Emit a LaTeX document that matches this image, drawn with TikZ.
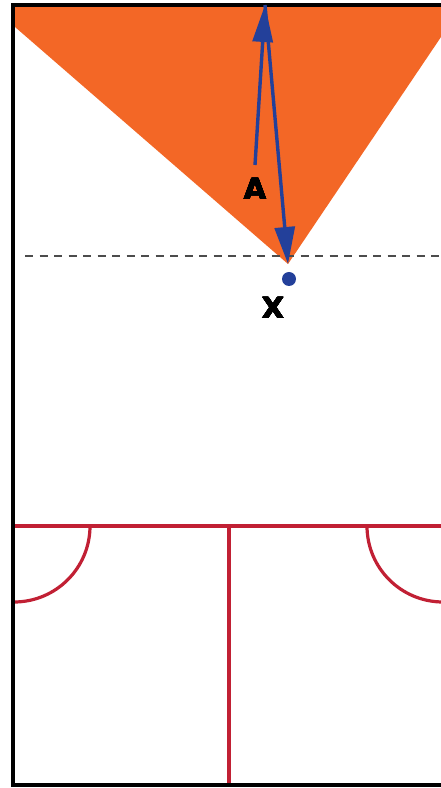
\documentclass[tikz,border=0pt]{standalone}
\usepackage{fontspec}
\setmainfont{DejaVu Sans}
\usepackage{contour}
\contourlength{0.35pt}
\usetikzlibrary{arrows.meta}
\definecolor{zoneorange}{RGB}{243,103,38}
\definecolor{arrblue}{RGB}{35,64,154}
\definecolor{linered}{RGB}{193,32,52}
\tikzset{
  edgeline/.style={line width=4pt,black,line join=miter},
  zone/.style={fill=zoneorange,draw=none},
  guide/.style={draw=black!70,line width=1.5pt,dash pattern=on 8pt off 6.5pt},
  courtline/.style={draw=linered,line width=3.2pt},
  barr/.style={arrblue,line width=3.4pt,-{Triangle[length=37pt,width=20pt]}},
  lbl/.style={font=\fontsize{29}{29}\selectfont\bfseries,inner sep=0pt}
}
\newcommand{\heavy}[1]{\contour{black}{#1}}
\begin{document}
\begin{tikzpicture}[x=1pt,y=1pt]
  \useasboundingbox (0,0) rectangle (441,788);
  % orange zone
  \fill[zone] (15,781) -- (441,781) -- (441,751) -- (288,524) -- (15,761) -- cycle;
  % dashed line
  \coordinate (dl) at (25,532);
  \coordinate (dr) at (441,532);
  \draw[guide] (dl) -- (dr);
  % red court lines
  \coordinate (cl) at (15,262);
  \coordinate (cr) at (441,262);
  \coordinate (cm) at (229,262);
  \coordinate (cb) at (229,2);
  \draw[courtline] (cl) -- (cr);
  \draw[courtline] (cm) -- (cb);
  \draw[courtline] (90,262) arc[start angle=0,end angle=-90,radius=76];
  \draw[courtline] (367,262) arc[start angle=180,end angle=270,radius=76];
  % border
  \draw[edgeline] (441,783) -- (13,783) -- (13,3) -- (441,3);
  % arrows
  \coordinate (astart) at (255,623);
  \coordinate (top) at (265,783);
  \coordinate (apex) at (288,524);
  \draw[barr] (astart) -- (top);
  \draw[barr] (top) -- (apex);
  \node[lbl] (a) at (255,599) {\heavy{A}};
  \fill[arrblue] (289,509) circle (7pt) coordinate (dot);
  \node[lbl] (x) at (273,480) {\heavy{X}};
\end{tikzpicture}
\end{document}
